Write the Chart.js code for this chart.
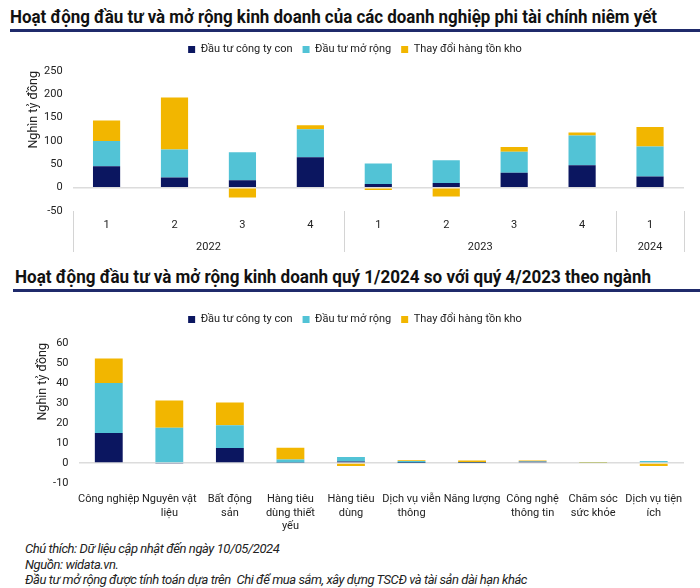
<!DOCTYPE html>
<html>
<head>
<meta charset="utf-8">
<script src="https://cdn.jsdelivr.net/npm/chart.js@4.4.1/dist/chart.umd.min.js"></script>
<style>
  body { margin: 0; width: 700px; height: 588px; background: #fff; position: relative; overflow: hidden;
         font-family: Roboto, "DejaVu Sans Condensed", sans-serif; color: #222; }
  .title { position: absolute; font-weight: bold; font-size: 18px; line-height: 22px; color: #111; white-space: nowrap; transform-origin: left center; }
  .rule { position: absolute; right: 0; height: 3px; background: #1f2a6b; }
  .box { position: absolute; left: 0; width: 700px; }
  .notes { position: absolute; left: 25px; top: 541px; font-style: italic; font-size: 13px; line-height: 15.5px; white-space: nowrap; }
</style>
</head>
<body>
<div class="title" id="title1" style="top:6px;left:10px">Hoạt động đầu tư và mở rộng kinh doanh của các doanh nghiệp phi tài chính niêm yết</div>
<div class="rule" style="top:29px;left:10px"></div>
<div class="box" style="top:34px;height:224px"><canvas id="quarterChart"></canvas></div>

<div class="title" id="title2" style="top:266px;left:15px">Hoạt động đầu tư và mở rộng kinh doanh quý 1/2024 so với quý 4/2023 theo ngành</div>
<div class="rule" style="top:289px;left:13px"></div>
<div class="box" style="top:304px;height:236px"><canvas id="sectorChart"></canvas></div>

<div class="notes" id="notes">
  <span>Chú thích: Dữ liệu cập nhật đến ngày 10/05/2024</span><br>
  <span>Nguồn: widata.vn.</span><br>
  <span id="noteLong">Đầu tư mở rộng được tính toán dựa trên&nbsp; Chi để mua sắm, xây dựng TSCĐ và tài sản dài hạn khác</span>
</div>

<script>
// chart 1: by quarter
var quarters = ["1", "2", "3", "4", "1", "2", "3", "4", "1"];
var years = ["2022", "2022", "2022", "2022", "2023", "2023", "2023", "2023", "2024"];
var subsidiaryQ = [46, 22, 16, 65, 8, 10, 32, 48, 24];
var expansionQ = [54, 60, 60, 60, 44, 49, 45, 64, 64];
var inventoryQ = [44, 111, -21, 9, -5, -19, 10, 6, 42];
var quarterTicks = { min: -50, max: 250, step: 50 };

// chart 2: by sector, Q1/2024 vs Q4/2023
var sectors = [
  ["Công nghiệp"], ["Nguyên vật", "liệu"], ["Bất động", "sản"], ["Hàng tiêu", "dùng thiết", "yếu"],
  ["Hàng tiêu", "dùng"], ["Dịch vụ viễn", "thông"], ["Năng lượng"], ["Công nghệ", "thông tin"],
  ["Chăm sóc", "sức khỏe"], ["Dịch vụ tiện", "ích"]
];
var subsidiaryS = [15, -0.3, 7.5, 0.2, 0.8, 0.1, 0.1, 0.6, 0, 0];
var expansionS = [25, 17.6, 11.4, 1.6, 2.2, 0.9, 0.3, 0.3, 0.2, 1.0];
var inventoryS = [12.3, 13.7, 11.4, 5.8, -1.5, 0.4, 0.9, 0.4, 0.3, -1.5];
var sectorTicks = { min: -10, max: 60, step: 10 };

var seriesNames = ["Đầu tư công ty con", "Đầu tư mở rộng", "Thay đổi hàng tồn kho"];
var colors = ["#0b1660", "#52c3d6", "#f2b600"];

var fontFamily = "Roboto, 'DejaVu Sans Condensed', sans-serif";
var textColor = "#222";

// squeeze the bold titles to the narrow width of the original
function fitWidth(id, width) {
  var el = document.getElementById(id);
  el.style.transform = "none";
  var w = el.getBoundingClientRect().width;
  el.style.transform = "scaleX(" + (width / w) + ")";
}
// spread the footnote so its long line reaches the original width
function spreadNotes(width) {
  var notes = document.getElementById("notes");
  var line = document.getElementById("noteLong");
  notes.style.letterSpacing = "0px";
  var w = line.getBoundingClientRect().width;
  notes.style.letterSpacing = ((width - w) / line.textContent.length) + "px";
}
function fitAll() {
  fitWidth("title1", 647);
  fitWidth("title2", 636);
  spreadNotes(502);
}
fitAll();
if (document.fonts) {
  document.fonts.ready.then(fitAll);
}

function datasets(a, b, c, bar) {
  return [a, b, c].map(function (values, i) {
    return {
      label: seriesNames[i],
      data: values,
      backgroundColor: colors[i],
      categoryPercentage: 1,
      barPercentage: bar
    };
  });
}

// leave some room between the legend and the plot
var legendGap = {
  id: "legendGap",
  beforeInit: function (chart, args, opts) {
    var fit = chart.legend.fit;
    chart.legend.fit = function () {
      fit.bind(chart.legend)();
      this.height += opts.extra;
    };
  }
};

// year groups under the quarter axis
var yearGroups = {
  id: "yearGroups",
  afterDraw: function (chart) {
    var x = chart.scales.x;
    var area = chart.chartArea;
    var ctx = chart.ctx;
    var half = (x.getPixelForValue(1) - x.getPixelForValue(0)) / 2;
    ctx.save();
    ctx.strokeStyle = "#d4d4d4";
    ctx.lineWidth = 1;
    ctx.fillStyle = textColor;
    ctx.font = "11px " + fontFamily;
    ctx.textAlign = "center";
    ctx.textBaseline = "middle";
    var start = 0;
    for (var i = 1; i <= years.length; i++) {
      if (i === years.length || years[i] !== years[start]) {
        var left = x.getPixelForValue(start) - half;
        var right = x.getPixelForValue(i - 1) + half;
        ctx.fillText(years[start], (left + right) / 2, area.bottom + 36);
        [left, right].forEach(function (px) {
          var p = Math.round(px) + 0.5;
          ctx.beginPath();
          ctx.moveTo(p, area.bottom);
          ctx.lineTo(p, area.bottom + 41);
          ctx.stroke();
        });
        start = i;
      }
    }
    ctx.restore();
  }
};

function options(ticks, yWidth, titlePad, xHeight, xPad, gap) {
  return {
    responsive: true,
    maintainAspectRatio: false,
    animation: false,
    layout: { padding: { top: 0, right: 16, left: 26, bottom: 0 } },
    plugins: {
      legendGap: { extra: gap },
      legend: {
        position: "top",
        labels: {
          color: textColor,
          boxWidth: 7,
          boxHeight: 7,
          padding: 10,
          font: { family: fontFamily, size: 11 }
        }
      },
      tooltip: { enabled: false }
    },
    scales: {
      x: {
        stacked: true,
        grid: { display: false, drawTicks: false },
        border: { display: false },
        ticks: {
          color: textColor,
          autoSkip: false,
          maxRotation: 0,
          padding: xPad,
          font: { family: fontFamily, size: 11, lineHeight: 1.2 }
        },
        afterFit: function (scale) { scale.height = xHeight; }
      },
      y: {
        stacked: true,
        min: ticks.min,
        max: ticks.max,
        border: { display: false },
        grid: {
          drawTicks: false,
          lineWidth: 1.5,
          color: function (c) { return c.tick && c.tick.value === 0 ? "#dcdcdc" : "transparent"; }
        },
        ticks: {
          stepSize: ticks.step,
          color: textColor,
          padding: 10,
          font: { family: fontFamily, size: 11 }
        },
        title: {
          display: true,
          align: "end",
          text: "Nghìn tỷ đồng",
          color: textColor,
          padding: { top: titlePad, bottom: 0 },
          font: { family: fontFamily, size: 12.5 }
        },
        afterFit: function (scale) { scale.width = yWidth; }
      }
    }
  };
}

new Chart(document.getElementById("quarterChart"), {
  type: "bar",
  data: { labels: quarters, datasets: datasets(subsidiaryQ, expansionQ, inventoryQ, 0.4) },
  options: options(quarterTicks, 46.6, 0, 47, 8, 6),
  plugins: [legendGap, yearGroups]
});

new Chart(document.getElementById("sectorChart"), {
  type: "bar",
  data: { labels: sectors, datasets: datasets(subsidiaryS, expansionS, inventoryS, 0.46) },
  options: options(sectorTicks, 52.5, 9, 57, 10, 8),
  plugins: [legendGap]
});
</script>
</body>
</html>
